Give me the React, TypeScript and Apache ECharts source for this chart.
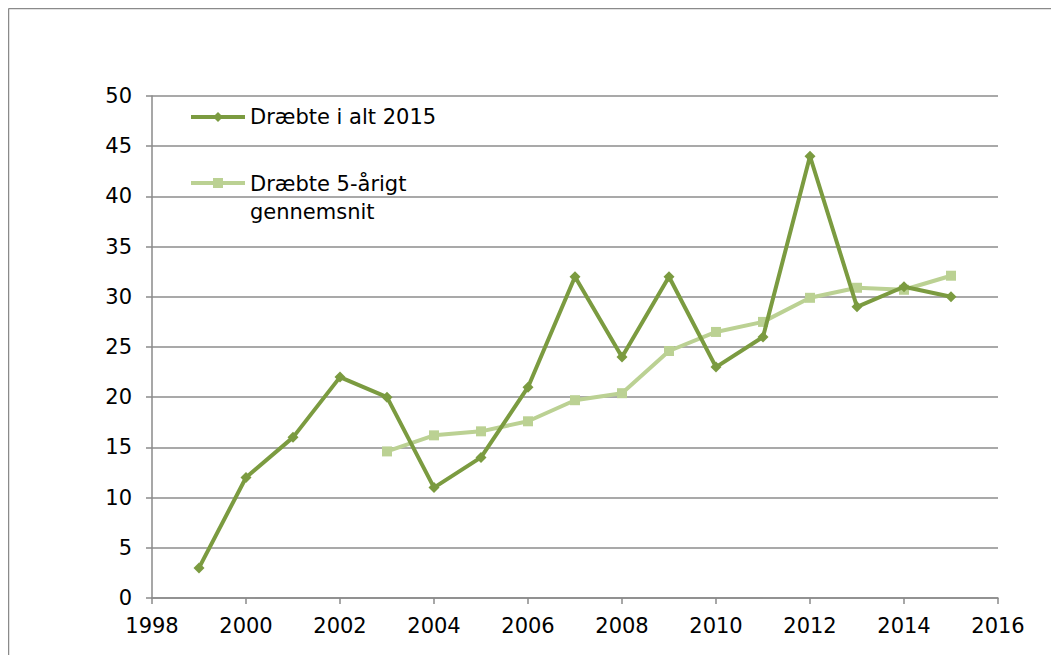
import React, { useEffect, useRef } from "react";
import * as echarts from "echarts";

const years = [1999, 2000, 2001, 2002, 2003, 2004, 2005, 2006, 2007, 2008, 2009, 2010, 2011, 2012, 2013, 2014, 2015];
const totalKilled = [3, 12, 16, 22, 20, 11, 14, 21, 32, 24, 32, 23, 26, 44, 29, 31, 30];
const avgYears = [2003, 2004, 2005, 2006, 2007, 2008, 2009, 2010, 2011, 2012, 2013, 2014, 2015];
const avgKilled = [14.6, 16.2, 16.6, 17.6, 19.7, 20.4, 24.6, 26.5, 27.5, 29.9, 30.9, 30.7, 32.1];
const seriesNames = ["Dræbte i alt 2015", "Dræbte 5-årigt\ngennemsnit"];

const DARK = "#7B9B40";
const LIGHT = "#BBD193";
const FONT = "DejaVu Sans, Verdana, sans-serif";

export default function App() {
  const ref = useRef<HTMLDivElement>(null);
  useEffect(() => {
    if (!ref.current) return;
    const chart = echarts.init(ref.current, null, { renderer: "svg" });
    chart.setOption({
      animation: false,
      backgroundColor: "#ffffff",
      grid: { left: 144, top: 88, right: 53, bottom: 57 },
      xAxis: {
        type: "value",
        min: 1998,
        max: 2016,
        interval: 2,
        axisLine: { show: true, lineStyle: { color: "#8a8a8a", width: 1.5 } },
        axisTick: { show: true, length: 6, lineStyle: { color: "#8a8a8a", width: 1.5 } },
        axisLabel: { color: "#000", fontSize: 21, fontFamily: FONT, margin: 17, formatter: (v: number) => String(v) },
        splitLine: { show: false },
      },
      yAxis: {
        type: "value",
        min: 0,
        max: 50,
        interval: 5,
        axisLine: { show: true, lineStyle: { color: "#8a8a8a", width: 1.5 } },
        axisTick: { show: true, length: 6, lineStyle: { color: "#8a8a8a", width: 1.5 } },
        axisLabel: { color: "#000", fontSize: 21, fontFamily: FONT, margin: 20 },
        splitLine: { show: true, lineStyle: { color: "#8c8c8c", width: 1.5 } },
      },
      series: [
        {
          name: seriesNames[0],
          type: "line",
          data: years.map((y, i) => [y, totalKilled[i]]),
          symbol: "diamond",
          symbolSize: 11,
          itemStyle: { color: DARK },
          lineStyle: { color: DARK, width: 4 },
          z: 3,
        },
        {
          name: seriesNames[1],
          type: "line",
          data: avgYears.map((y, i) => [y, avgKilled[i]]),
          symbol: "rect",
          symbolSize: 10,
          itemStyle: { color: LIGHT },
          lineStyle: { color: LIGHT, width: 4 },
          z: 2,
        },
      ],
      graphic: [
        { type: "line", shape: { x1: 0.5, y1: 0.5, x2: 1043, y2: 0.5 }, style: { stroke: "#8a8a8a", lineWidth: 1.5 } },
        { type: "line", shape: { x1: 0.5, y1: 0.5, x2: 0.5, y2: 647 }, style: { stroke: "#8a8a8a", lineWidth: 1.5 } },
        { type: "line", shape: { x1: 183, y1: 109, x2: 237, y2: 109 }, style: { stroke: DARK, lineWidth: 4 } },
        { type: "polygon", shape: { points: [[210, 104], [215, 109], [210, 114], [205, 109]] }, style: { fill: DARK } },
        { type: "text", x: 242, y: 109, style: { text: seriesNames[0], fill: "#000", font: `21px ${FONT}`, textVerticalAlign: "middle" } },
        { type: "line", shape: { x1: 183, y1: 175, x2: 237, y2: 175 }, style: { stroke: LIGHT, lineWidth: 4 } },
        { type: "rect", shape: { x: 205, y: 170, width: 10, height: 10 }, style: { fill: LIGHT } },
        { type: "text", x: 242, y: 162, style: { text: seriesNames[1], fill: "#000", font: `21px ${FONT}`, lineHeight: 28, textVerticalAlign: "top" } },
      ],
    });
    return () => chart.dispose();
  }, []);
  return <div ref={ref} style={{ width: 1043, height: 647 }} />;
}
